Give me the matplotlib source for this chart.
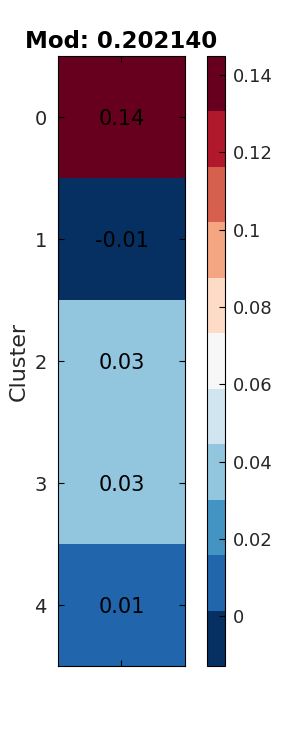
import matplotlib
matplotlib.use('Agg')
import matplotlib.pyplot as plt
import numpy as np

# --- data ---
clusters = ['0', '1', '2', '3', '4']
mod_values = np.array([0.1449, -0.0128, 0.0322, 0.0312, 0.0095])
modularity = 0.202140
cbar_ticks = [0, 0.02, 0.04, 0.06, 0.08, 0.1, 0.12, 0.14]

plt.rcParams['font.family'] = ['DejaVu Sans']

fig = plt.figure(figsize=(3, 7.5), dpi=100)
ax = fig.add_axes([0.1933, 0.112, 0.4233, 0.8133])
cax = fig.add_axes([0.69, 0.112, 0.06, 0.8133])

cmap = plt.get_cmap('RdBu_r', 11)
data = mod_values.reshape(-1, 1)
im = ax.imshow(data, cmap=cmap, vmin=mod_values.min(), vmax=mod_values.max(),
               aspect='auto', interpolation='nearest')

for i, v in enumerate(mod_values):
    ax.text(0, i, f'{v:.2f}', ha='center', va='center_baseline', fontsize=15, color='black')

ax.set_yticks(np.arange(len(clusters)))
ax.set_yticklabels(clusters)
ax.set_xticks([0])
ax.set_xticklabels([])
ax.tick_params(axis='both', direction='in', length=4, width=0.8,
               left=True, right=True, top=True, bottom=True,
               labelsize=14, labelcolor='#262626', pad=8)
ax.set_ylabel('Cluster', fontsize=16, color='#262626', labelpad=4)
ax.set_title(f'Mod: {modularity:.6f}', fontsize=16.5, fontweight='bold', pad=6)
for s in ax.spines.values():
    s.set_linewidth(0.8)

cb = fig.colorbar(im, cax=cax, ticks=cbar_ticks)
cb.ax.set_yticklabels([f'{t:g}' for t in cbar_ticks])
cb.ax.tick_params(direction='in', length=4, width=0.8, labelsize=13,
                  labelcolor='#262626', pad=6)
cb.outline.set_linewidth(0.8)

fig.savefig('out.png', dpi=100)
